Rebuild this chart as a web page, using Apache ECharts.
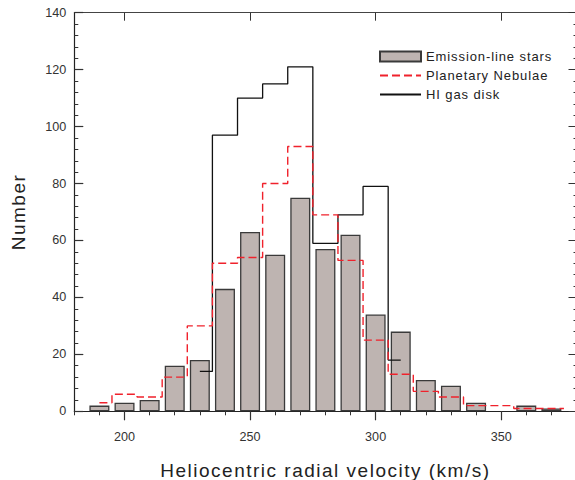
<!DOCTYPE html>
<html>
<head>
<meta charset="utf-8">
<script src="https://cdn.jsdelivr.net/npm/echarts@6/dist/echarts.min.js"></script>
<style>
  html, body { margin: 0; padding: 0; background: #fff; }
  #chart { width: 575px; height: 480px; }
</style>
</head>
<body>
<div id="chart"></div>
<script>
// ---- data ----
const binCenters = [190, 200, 210, 220, 230, 240, 250, 260, 270, 280, 290, 300, 310, 320, 330, 340, 350, 360, 370];
const starCounts = [2, 3, 4, 16, 18, 43, 63, 55, 75, 57, 62, 34, 28, 11, 9, 3, 0, 2, 1];

const pnEdges  = [190, 195, 205, 215, 225, 235, 245, 255, 265, 275, 285, 295, 305, 315, 325, 335, 355, 375];
const pnCounts = [3, 6, 5, 12, 30, 52, 54, 80, 93, 69, 53, 25, 13, 7, 5, 2, 1];

const hiEdges  = [230, 235, 245, 255, 265, 275, 285, 295, 305, 310];
const hiCounts = [14, 97, 110, 115, 121, 59, 69, 79, 18];

const xTickLabels = [200, 250, 300, 350];
const yTickLabels = [0, 20, 40, 60, 80, 100, 120, 140];

const seriesNames = ['Emission-line stars', 'Planetary Nebulae', 'HI gas disk'];
const xTitle = 'Heliocentric radial velocity (km/s)';
const yTitle = 'Number';

// ---- build ----
function stepData(edges, counts) {
  const d = edges.slice(0, counts.length).map((e, i) => [e, counts[i]]);
  d.push([edges[edges.length - 1], counts[counts.length - 1]]);
  return d;
}
const barData = binCenters.map((c, i) => [c, starCounts[i] === 0 ? null : starCounts[i]]);

const FONT = '"Liberation Sans", Arial, sans-serif';
const AX = '#333';
const xMin = 180, xMax = 380;
const yMin = yTickLabels[0], yMax = yTickLabels[yTickLabels.length - 1];

const baseX = {
  type: 'value', min: xMin, max: xMax, splitLine: { show: false },
  axisLine: { show: false }, axisLabel: { show: false }, axisTick: { show: false }
};

const chart = echarts.init(document.getElementById('chart'), null, { renderer: 'svg' });
chart.setOption({
  animation: false,
  backgroundColor: '#fff',
  textStyle: { fontFamily: FONT },
  grid: { left: 74.3, right: -1.5, top: 12.7, bottom: 68.7, containLabel: false, outerBoundsMode: 'none' },
  legend: {
    orient: 'vertical', left: 374, top: 45, itemWidth: 41, itemHeight: 10, itemGap: 6,
    data: [
      { name: seriesNames[0], icon: 'rect' },
      { name: seriesNames[1], itemStyle: { opacity: 0 } },
      { name: seriesNames[2], itemStyle: { opacity: 0 } }
    ],
    textStyle: { fontSize: 13, color: '#222', fontFamily: FONT }
  },
  xAxis: [
    Object.assign({}, baseX, {
      position: 'bottom',
      name: xTitle, nameLocation: 'middle', nameGap: 50,
      nameTextStyle: { fontSize: 19, color: '#222', fontFamily: FONT },
      axisLine: { show: true, onZero: false, lineStyle: { color: '#222', width: 1.2 } },
      axisTick: { show: true, inside: false, length: 9, customValues: xTickLabels, lineStyle: { color: AX, width: 1.2 } },
      axisLabel: { show: true, customValues: xTickLabels, margin: 19, fontSize: 12.6, color: AX, fontFamily: FONT }
    }),
    Object.assign({}, baseX, {
      position: 'bottom', interval: 10,
      axisTick: { show: true, inside: false, length: 4, lineStyle: { color: AX, width: 1 } }
    }),
    Object.assign({}, baseX, {
      position: 'top',
      axisLine: { show: true, onZero: false, lineStyle: { color: '#444', width: 1 } },
      axisTick: { show: true, inside: true, length: 8, customValues: xTickLabels, lineStyle: { color: AX, width: 1 } }
    }),
    Object.assign({}, baseX, {
      position: 'top', interval: 10,
      axisTick: { show: true, inside: true, length: 3, lineStyle: { color: AX, width: 1 } }
    })
  ],
  yAxis: [
    {
      type: 'value', position: 'left', min: yMin, max: yMax, interval: 20,
      name: yTitle, nameLocation: 'middle', nameGap: 46, nameRotate: 90,
      nameTextStyle: { fontSize: 19, color: '#222', fontFamily: FONT },
      splitLine: { show: false },
      axisLine: { show: true, onZero: false, lineStyle: { color: '#222', width: 1.2 } },
      axisTick: { show: true, inside: true, length: 9, lineStyle: { color: AX, width: 1.2 } },
      minorTick: { show: true, splitNumber: 5, length: 4, lineStyle: { color: AX, width: 1 } },
      axisLabel: { margin: 8, fontSize: 12.6, color: AX, fontFamily: FONT }
    },
    {
      type: 'value', position: 'right', min: yMin, max: yMax, interval: 20,
      splitLine: { show: false },
      axisLine: { show: true, onZero: false, lineStyle: { color: '#444', width: 1 } },
      axisTick: { show: true, inside: true, length: 8, lineStyle: { color: AX, width: 1 } },
      minorTick: { show: true, splitNumber: 5, length: 3, lineStyle: { color: AX, width: 1 } },
      axisLabel: { show: false }
    }
  ],
  series: [
    {
      name: seriesNames[0], type: 'bar', xAxisIndex: 0, yAxisIndex: 0,
      data: barData, barWidth: 20, z: 2,
      itemStyle: { color: '#beb4b1', borderColor: '#3a3a3a', borderWidth: 1.3 }
    },
    {
      name: seriesNames[1], type: 'line', xAxisIndex: 0, yAxisIndex: 0,
      step: 'end', data: stepData(pnEdges, pnCounts), symbol: 'none', z: 4,
      lineStyle: { color: '#f0222c', width: 1.4, type: [8, 4] },
      itemStyle: { color: '#f0222c' }
    },
    {
      name: seriesNames[2], type: 'line', xAxisIndex: 0, yAxisIndex: 0,
      step: 'end', data: stepData(hiEdges, hiCounts), symbol: 'none', z: 3,
      lineStyle: { color: '#111', width: 1.3 },
      itemStyle: { color: '#111' }
    }
  ]
});

function spaceText() {
  document.querySelectorAll('#chart text').forEach(t => {
    const fs = parseFloat(getComputedStyle(t).fontSize);
    if (fs >= 18) t.style.letterSpacing = '1.5px';
    else if (fs === 13) t.style.letterSpacing = '0.9px';
  });
}
chart.on('finished', spaceText);
spaceText();
</script>
</body>
</html>
